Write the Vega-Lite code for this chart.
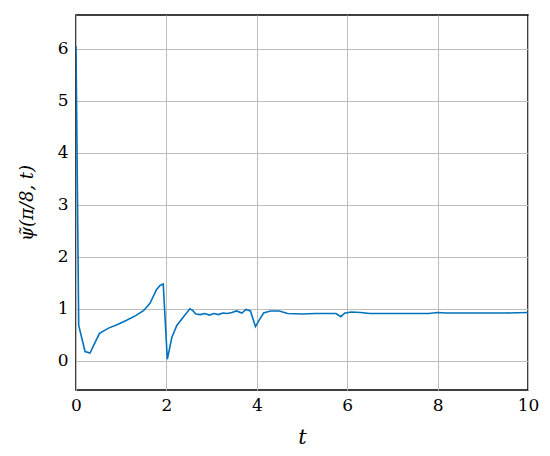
{
  "$schema": "https://vega.github.io/schema/vega-lite/v6.json",
  "autosize": "none",
  "padding": {"left": 76, "top": 15, "right": 22, "bottom": 66},
  "width": 452,
  "height": 375,
  "background": "white",
  "config": {
    "view": {"stroke": "black", "strokeWidth": 1.5},
    "font": "DejaVu Serif"
  },
  "data": {
    "values": [
      {"t": 0, "psi": 6.05},
      {"t": 0.04, "psi": 2.5},
      {"t": 0.06, "psi": 0.68},
      {"t": 0.2, "psi": 0.18},
      {"t": 0.31, "psi": 0.15},
      {"t": 0.42, "psi": 0.35},
      {"t": 0.52, "psi": 0.53},
      {"t": 0.72, "psi": 0.63},
      {"t": 0.92, "psi": 0.7},
      {"t": 1.12, "psi": 0.78},
      {"t": 1.32, "psi": 0.87},
      {"t": 1.5, "psi": 0.97},
      {"t": 1.64, "psi": 1.11},
      {"t": 1.78, "psi": 1.37},
      {"t": 1.86, "psi": 1.45},
      {"t": 1.93, "psi": 1.48},
      {"t": 2.02, "psi": 0.03},
      {"t": 2.12, "psi": 0.45},
      {"t": 2.23, "psi": 0.68},
      {"t": 2.38, "psi": 0.85},
      {"t": 2.52, "psi": 1.0},
      {"t": 2.58, "psi": 0.97},
      {"t": 2.65, "psi": 0.9},
      {"t": 2.75, "psi": 0.89},
      {"t": 2.85, "psi": 0.91},
      {"t": 2.95, "psi": 0.88},
      {"t": 3.05, "psi": 0.91},
      {"t": 3.15, "psi": 0.89},
      {"t": 3.25, "psi": 0.92},
      {"t": 3.35, "psi": 0.91},
      {"t": 3.45, "psi": 0.93},
      {"t": 3.55, "psi": 0.96},
      {"t": 3.67, "psi": 0.92},
      {"t": 3.76, "psi": 0.99},
      {"t": 3.86, "psi": 0.96},
      {"t": 3.97, "psi": 0.66},
      {"t": 4.05, "psi": 0.78},
      {"t": 4.15, "psi": 0.92},
      {"t": 4.3, "psi": 0.96},
      {"t": 4.5, "psi": 0.96},
      {"t": 4.68, "psi": 0.91},
      {"t": 5.0, "psi": 0.9},
      {"t": 5.3, "psi": 0.91},
      {"t": 5.6, "psi": 0.91},
      {"t": 5.75, "psi": 0.91},
      {"t": 5.86, "psi": 0.85},
      {"t": 5.95, "psi": 0.92},
      {"t": 6.1, "psi": 0.94},
      {"t": 6.3, "psi": 0.93},
      {"t": 6.5, "psi": 0.91},
      {"t": 7.0, "psi": 0.91},
      {"t": 7.5, "psi": 0.91},
      {"t": 7.8, "psi": 0.91},
      {"t": 8.0, "psi": 0.93},
      {"t": 8.2, "psi": 0.92},
      {"t": 9.0, "psi": 0.92},
      {"t": 9.5, "psi": 0.92},
      {"t": 10, "psi": 0.93}
    ]
  },
  "mark": {"type": "line", "color": "#0072bd", "strokeWidth": 1.6, "clip": true},
  "encoding": {
    "x": {
      "field": "t",
      "type": "quantitative",
      "scale": {"domain": [0, 10], "nice": false, "zero": false},
      "axis": {
        "values": [0, 2, 4, 6, 8, 10],
        "title": "t",
        "titleFontStyle": "italic",
        "titleFontWeight": "normal",
        "titleFont": "DejaVu Serif",
        "titleFontSize": 21,
        "titleColor": "black",
        "titlePadding": 13,
        "labelFont": "DejaVu Serif",
        "labelFontSize": 17,
        "labelColor": "black",
        "labelPadding": 7,
        "labelFlush": false,
        "domain": false,
        "ticks": false,
        "grid": true,
        "gridColor": "#bdbdbd",
        "gridWidth": 1,
        "gridOpacity": 1
      }
    },
    "y": {
      "field": "psi",
      "type": "quantitative",
      "scale": {"domain": [-0.56, 6.65], "nice": false, "zero": false},
      "axis": {
        "values": [0, 1, 2, 3, 4, 5, 6],
        "title": "ψ̃(π/8, t)",
        "titleFontStyle": "italic",
        "titleFontWeight": "normal",
        "titleFont": "DejaVu Serif",
        "titleFontSize": 18,
        "titleColor": "black",
        "titleAngle": -90,
        "titleX": -49,
        "titleY": 187.5,
        "titleAlign": "center",
        "titleBaseline": "middle",
        "labelFont": "DejaVu Serif",
        "labelFontSize": 17,
        "labelColor": "black",
        "labelPadding": 8,
        "labelFlush": false,
        "domain": false,
        "ticks": false,
        "grid": true,
        "gridColor": "#bdbdbd",
        "gridWidth": 1,
        "gridOpacity": 1
      }
    }
  }
}
